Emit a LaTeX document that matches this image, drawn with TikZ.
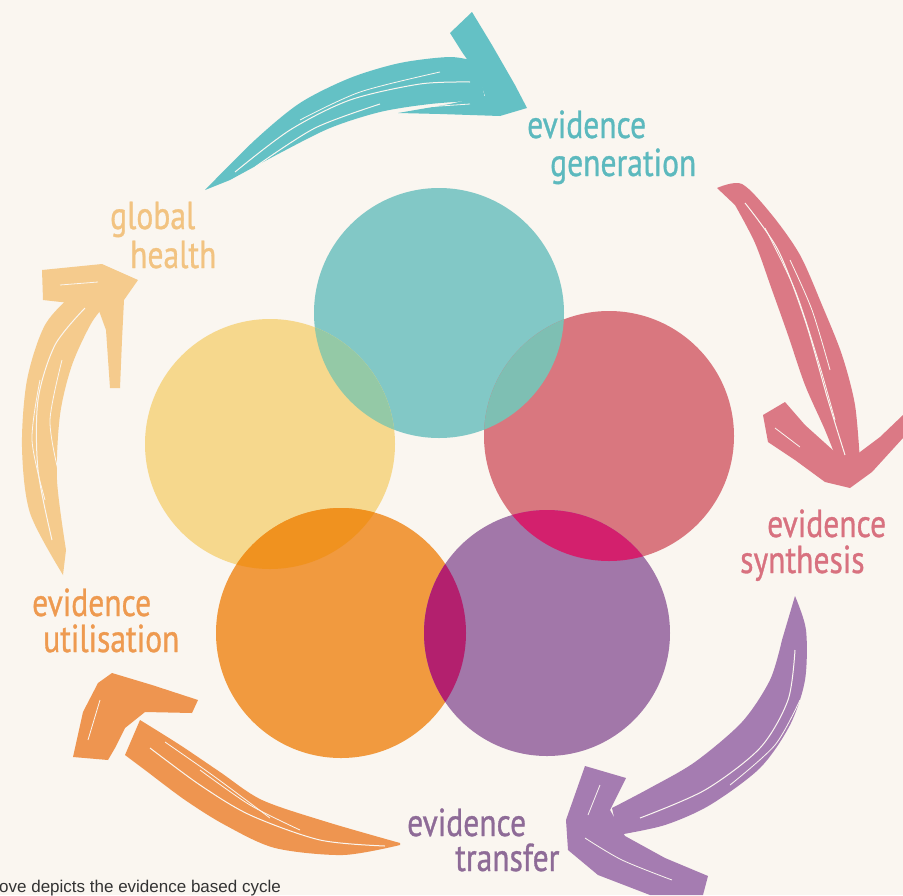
\documentclass[tikz,border=0pt]{standalone}
\usepackage{fontspec}
\setmainfont{Liberation Sans}
\newfontfamily\labfont[FakeStretch=0.81,FakeBold=0.8]{PT Sans}
\definecolor{bg}{HTML}{FAF6F0}
\definecolor{cteal}{HTML}{82C8C6}
\definecolor{cyel}{HTML}{F6D88D}
\definecolor{cpink}{HTML}{D9777F}
\definecolor{corng}{HTML}{F19A3F}
\definecolor{cpurp}{HTML}{A277A9}
\definecolor{oty}{HTML}{94C9A6}
\definecolor{otp}{HTML}{7EBFB3}
\definecolor{opp}{HTML}{D3206D}
\definecolor{oop}{HTML}{B3206E}
\definecolor{oyo}{HTML}{F0921F}
\definecolor{ateal}{HTML}{64C1C5}
\definecolor{apink}{HTML}{DB7985}
\definecolor{apurp}{HTML}{A57CB1}
\definecolor{aorng}{HTML}{EE9550}
\definecolor{ayel}{HTML}{F5CB8D}
\definecolor{tteal}{HTML}{5CB9BE}
\definecolor{tyel}{HTML}{F2C381}
\definecolor{tpink}{HTML}{D8717F}
\definecolor{tpurp}{HTML}{8E6B97}
\definecolor{torng}{HTML}{EE9A50}
\definecolor{capc}{HTML}{333333}
\tikzset{
  lab/.style={anchor=base west, inner sep=0pt, align=left, font=\labfont\fontsize{39}{#1}\selectfont},
  strand/.style={draw=bg, line width=1pt},
}
\begin{document}
\begin{tikzpicture}[x=1pt,y=-1pt]
\fill[bg] (0,0) rectangle (903,895);
\useasboundingbox (0,0) rectangle (903,895);

% circles
\fill[cteal] (439,313) circle (125);
\fill[cyel] (270,444) circle (125);
\fill[cpink] (609,436) circle (125);
\fill[corng] (341,633) circle (125);
\fill[cpurp] (547,633) circle (123);
\begin{scope}\clip (439,313) circle (125); \fill[oty] (270,444) circle (125); \end{scope}
\begin{scope}\clip (439,313) circle (125); \fill[otp] (609,436) circle (125); \end{scope}
\begin{scope}\clip (609,436) circle (125); \fill[opp] (547,633) circle (123); \end{scope}
\begin{scope}\clip (341,633) circle (125); \fill[oop] (547,633) circle (123); \end{scope}
\begin{scope}\clip (270,444) circle (125); \fill[oyo] (341,633) circle (125); \end{scope}

% arrow 1 teal
\fill[ateal] plot[smooth] coordinates {(205,190)(255,140)(300,103)(350,78)(400,63)(450,57)(478,62)}
  -- plot[smooth] coordinates {(485,100)(430,104)(380,112)(330,128)(280,153)(230,180)} -- cycle;
\fill[ateal] (450,33) -- (472,12) -- (492,45) -- (515,85) -- (527,108) -- (500,116) -- (440,114)
  -- (398,113) -- (450,104) -- (485,96) -- (478,75) -- (462,52) -- cycle;
\draw[strand] plot[smooth] coordinates {(235,172)(290,130)(350,100)(420,84)(470,82)};
\draw[strand] plot[smooth] coordinates {(255,167)(315,128)(380,104)};
\draw[strand, line width=0.8pt] plot[smooth] coordinates {(300,120)(360,92)(440,72)};
\draw[strand, line width=0.8pt] (410,108) -- (470,104);

% arrow 2 pink
\fill[apink] plot[smooth] coordinates {(717,188)(742,184)(772,215)(800,255)(822,305)(842,355)(855,405)(860,462)}
  -- plot[smooth] coordinates {(840,468)(825,430)(805,385)(788,335)(772,290)(755,243)(735,205)} -- cycle;
\fill[apink] (763,415) -- (785,402) -- (805,425) -- (835,452) -- (852,458) -- (880,437) -- (903,415)
  -- (903,438) -- (872,472) -- (850,488) -- (825,482) -- (795,460) -- (768,442) -- cycle;
\draw[strand] plot[smooth] coordinates {(745,203)(778,250)(805,320)(828,400)(845,455)};
\draw[strand, line width=0.8pt] plot[smooth] coordinates {(765,228)(795,290)(818,360)(835,420)};
\draw[strand, line width=0.8pt] plot[smooth] coordinates {(790,260)(812,310)(830,370)};
\draw[strand, line width=0.8pt] (775,428) -- (800,447);

% arrow 3 purple
\fill[apurp] plot[smooth] coordinates {(795,596)(806,630)(805,680)(790,725)(760,768)(710,805)(665,825)(618,835)}
  -- plot[smooth] coordinates {(612,808)(650,788)(695,762)(742,722)(770,680)(782,640)} -- cycle;
\fill[apurp] (585,766) -- (626,778) -- (610,810) -- (625,836) -- (665,858) -- (708,876) -- (703,895)
  -- (650,895) -- (598,875) -- (568,850) -- (566,820) -- cycle;
\draw[strand] plot[smooth] coordinates {(795,650)(788,700)(760,748)(705,790)(640,818)};
\draw[strand, line width=0.8pt] plot[smooth] coordinates {(800,700)(775,745)(730,785)};
\draw[strand, line width=0.8pt] plot[smooth] coordinates {(585,838)(622,860)(672,880)};
\draw[strand, line width=0.8pt] (600,785) -- (588,815);

% arrow 4 orange
\fill[aorng] plot[smooth] coordinates {(400,843)(327,822)(262,800)(220,772)(180,745)(140,720)}
  -- plot[smooth] coordinates {(125,755)(145,770)(185,800)(225,825)(275,848)(343,855)(400,845)} -- cycle;
\fill[aorng] (73,757) -- (83,712) -- (98,683) -- (112,673) -- (152,685) -- (198,700) -- (192,713)
  -- (145,712) -- (125,728) -- (115,748) -- (108,760) -- cycle;
\draw[strand] plot[smooth] coordinates {(150,748)(200,785)(250,815)(320,840)(385,846)};
\draw[strand, line width=0.8pt] plot[smooth] coordinates {(165,742)(215,777)(270,818)};
\draw[strand, line width=0.8pt] plot[smooth] coordinates {(200,770)(250,805)(300,830)};
\draw[strand, line width=0.8pt] (88,740) -- (100,700);

% arrow 5 light orange
\fill[ayel] plot[smooth] coordinates {(63,575)(30,513)(22,447)(27,380)(45,325)(75,293)(95,287)}
  -- plot[smooth] coordinates {(110,300)(92,322)(72,365)(60,415)(57,480)(66,550)} -- cycle;
\fill[ayel] (42,270) -- (102,264) -- (138,280) -- (124,300) -- (122,340) -- (120,388) -- (110,388)
  -- (106,330) -- (98,308) -- (70,303) -- (43,300) -- cycle;
\draw[strand] plot[smooth] coordinates {(52,540)(38,470)(38,400)(55,345)(85,308)};
\draw[strand, line width=0.8pt] plot[smooth] coordinates {(45,500)(32,440)(40,380)};
\draw[strand, line width=0.8pt] plot[smooth] coordinates {(58,470)(50,420)(62,360)};
\draw[strand, line width=0.8pt] (60,285) -- (98,282);

% labels (two lines each; anchor = baseline of the last line)
\node[lab=38pt, text=tteal] (gen) at (527,176) {evidence\\\hspace*{23pt}generation};
\node[lab=39pt, text=tyel] (glo) at (110,268) {global\\\hspace*{20pt}health};
\node[lab=36pt, text=tpink] (syn) at (740,573) {\hspace*{27pt}evidence\\synthesis};
\node[lab=35pt, text=tpurp] (tra) at (407,871) {evidence\\\hspace*{48pt}transfer};
\node[lab=36pt, text=torng] (uti) at (32,652) {evidence\\\hspace*{11pt}utilisation};

\node[anchor=base west, inner sep=0pt, font=\fontsize{17}{20}\selectfont, text=capc] (cap) at (-1,892) {ove depicts the evidence based cycle};
\end{tikzpicture}
\end{document}
